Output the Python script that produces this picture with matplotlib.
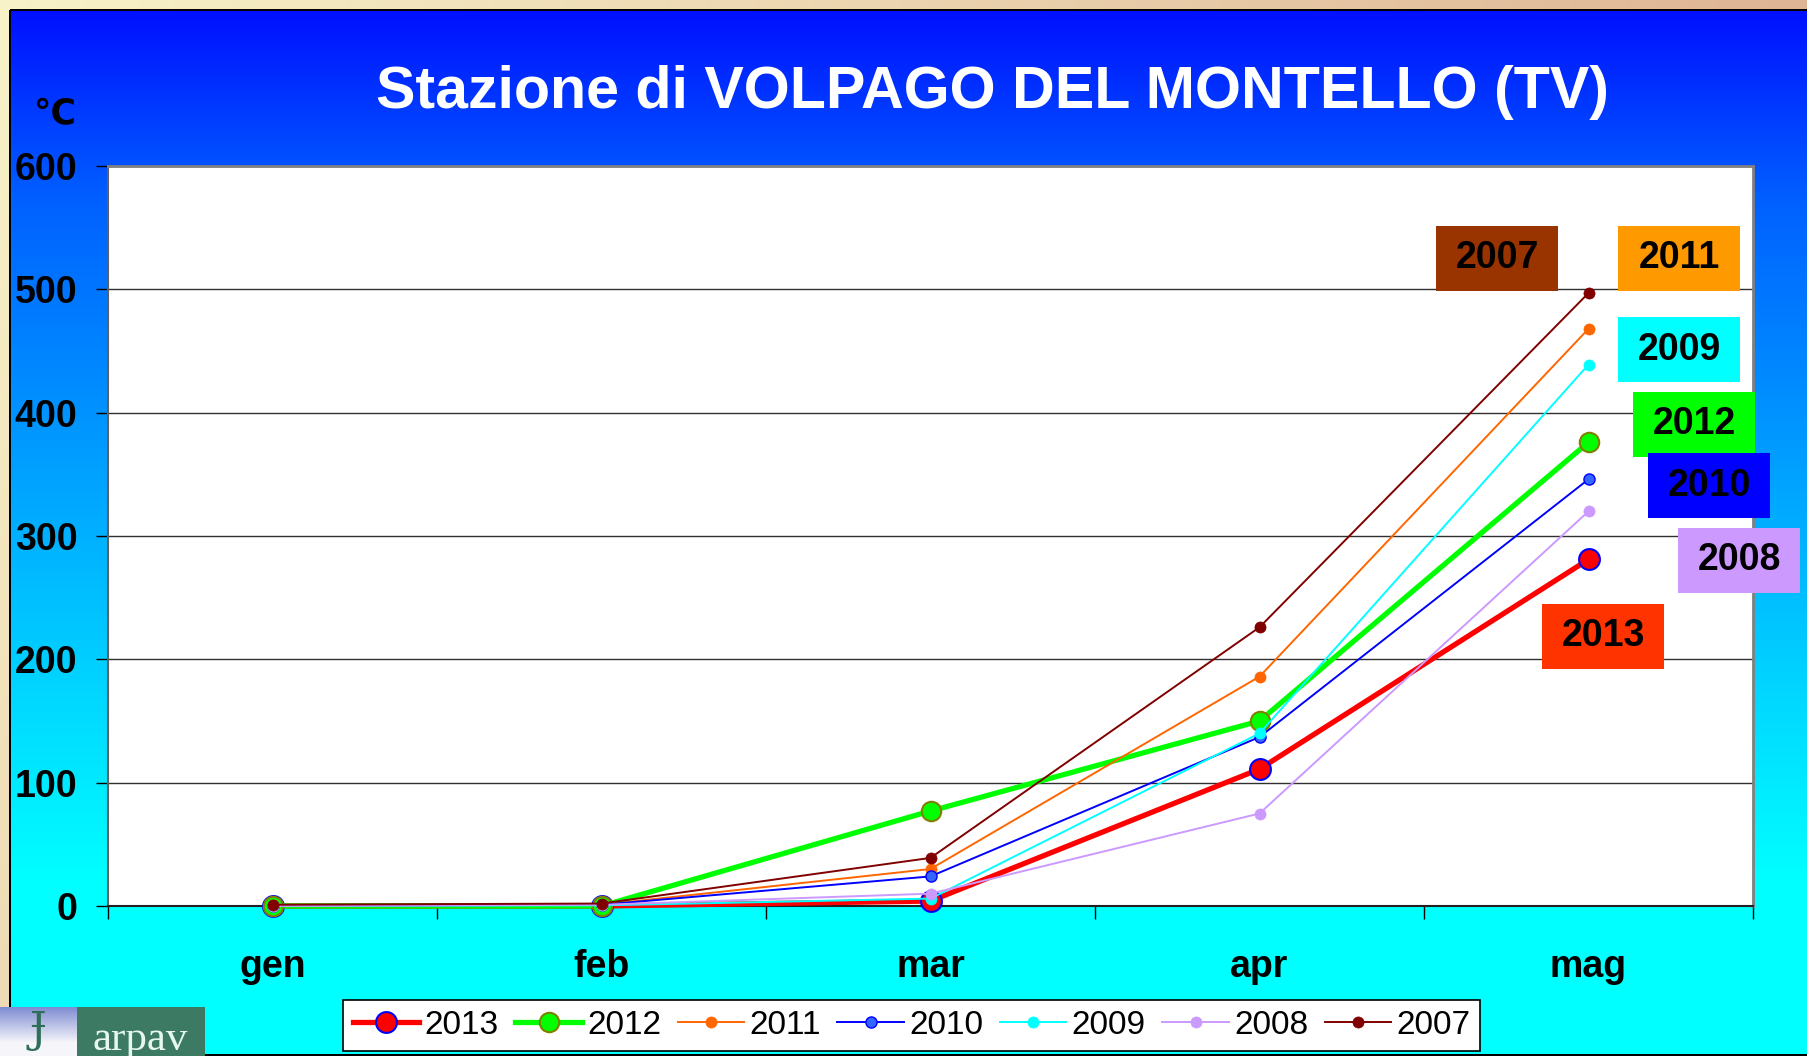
import numpy as np
import matplotlib
matplotlib.use("Agg")
import matplotlib.pyplot as plt
from matplotlib.patches import Rectangle

# ---------------- data ----------------
months = ["gen", "feb", "mar", "apr", "mag"]
years = ["2013", "2012", "2011", "2010", "2009", "2008", "2007"]
v2013 = [0, 0, 4, 111, 281]
v2012 = [0, 0, 77, 150, 376]
v2011 = [0.5, 1, 30, 186, 468]
v2010 = [0, 1, 24, 137, 346]
v2009 = [0, 0.5, 6, 140, 439]
v2008 = [0, 1, 10, 75, 320]
v2007 = [1, 2, 39, 226, 497]
series = [v2013, v2012, v2011, v2010, v2009, v2008, v2007]
yticks = [0, 100, 200, 300, 400, 500, 600]
title = "Stazione di VOLPAGO DEL MONTELLO (TV)"
unit = "\u2103"

# ---------------- styles ----------------
line_colors = ["#FF0000", "#00FF00", "#FF6600", "#0000FF", "#00FFFF", "#CC99FF", "#800000"]
marker_face = ["#FF0000", "#00FF00", "#FF6600", "#3366FF", "#00FFFF", "#CC99FF", "#800000"]
marker_edge = ["#0000FF", "#808000", "#FF6600", "#0000FF", "#00FFFF", "#CC99FF", "#800000"]
line_widths = [3.8, 3.8, 1.4, 1.4, 1.4, 1.4, 1.4]
marker_sizes = [15, 14, 8, 8, 8, 8, 8]
edge_widths = [1.5, 1.5, 0.5, 1.0, 0.5, 0.5, 0.5]
# label boxes (figure pixels: left, top) and colours
box_pos = {"2007": (1436, 226), "2011": (1618, 226), "2009": (1618, 317),
           "2012": (1633, 392), "2010": (1648, 453), "2008": (1678, 528),
           "2013": (1542, 604)}
box_col = {"2007": "#993300", "2011": "#FF9900", "2009": "#00FFFF",
           "2012": "#00FF00", "2010": "#0000FF", "2008": "#CC99FF",
           "2013": "#FF3300"}
BOX_W, BOX_H = 122, 65

FONT = ["Liberation Sans", "DejaVu Sans"]
plt.rcParams["font.family"] = FONT

W, H, DPI = 1807, 1056, 100
fig = plt.figure(figsize=(W / DPI, H / DPI), dpi=DPI)

# ---------------- background ----------------
bg = fig.add_axes([0, 0, 1, 1], zorder=-10)
bg.axis("off")
yy = np.arange(H)
xx = np.arange(W)
img = np.zeros((H, W, 3))
G = np.interp(yy, [10, 200, 700, 880], [16, 96, 216, 255]) / 255.0
img[:, :, 1] = G[:, None]
img[:, :, 2] = 1.0
beige = np.array([248, 243, 201]) / 255.0
tan = np.array([218, 170, 140]) / 255.0
t = np.clip(xx[None, :] / W * 0.85 + yy[:, None] / H * 0.35, 0, 1)[..., None]
frame = beige + (tan - beige) * t
mask = (xx[None, :] < 10) | (yy[:, None] < 10)
img[mask] = frame[mask]
img[9:11, 10:, :] = 0
img[10:, 9:11, :] = 0
img[H - 2:, 10:, :] = 0
# logo block
lav = np.array([128, 140, 210]) / 255.0
white = np.array([245, 245, 250]) / 255.0
for r in range(1007, H):
    f = min(1.0, (r - 1007) / 35.0)
    img[r, 0:77, :] = lav + (white - lav) * f
img[1007:H, 77:205, :] = np.array([61, 122, 99]) / 255.0
bg.imshow(img, extent=[0, W, H, 0], aspect="auto", interpolation="nearest")
bg.set_xlim(0, W)
bg.set_ylim(H, 0)

# ---------------- main axes ----------------
L, R, T, B = 108, 1753, 166, 906
ax = fig.add_axes([L / W, 1 - B / H, (R - L) / W, (B - T) / H])
ax.set_facecolor("white")
x = np.arange(len(months))
for i, (yr, vals) in enumerate(zip(years, series)):
    ax.plot(x, vals, color=line_colors[i], lw=line_widths[i], marker="o",
            ms=marker_sizes[i], mfc=marker_face[i], mec=marker_edge[i],
            mew=edge_widths[i], label=yr, clip_on=False, zorder=3 + i)

ax.set_xlim(-0.5, len(months) - 0.5)
ax.set_ylim(0, 600)
ax.set_yticks(yticks)
ax.set_yticklabels([str(v) for v in yticks], fontsize=27, fontweight="bold")
ax.yaxis.grid(True, color="#303030", lw=1.0)
ax.set_axisbelow(True)
ax.tick_params(axis="y", length=9, width=1, pad=13, colors="black")
ax.set_xticks(np.arange(-0.5, len(months), 1.0))
ax.set_xticklabels([])
ax.set_xticks(x, minor=True)
ax.set_xticklabels(months, minor=True, fontsize=27, fontweight="bold")
ax.tick_params(axis="x", which="major", length=9, width=1, direction="out")
ax.tick_params(axis="x", which="minor", length=0, pad=31)
for s in ["top", "right"]:
    ax.spines[s].set_color("#808080")
    ax.spines[s].set_linewidth(2)
ax.spines["left"].set_color("#606060")
ax.spines["left"].set_linewidth(1.5)
ax.spines["bottom"].set_color("#202020")
ax.spines["bottom"].set_linewidth(1.5)

# ---------------- texts ----------------
fig.text(992 / W, 1 - 92 / H, title, ha="center", va="center", color="white",
         fontsize=42.6, fontweight="bold")
fig.text(76 / W, 1 - 115 / H, unit, ha="right", va="center", color="black",
         fontsize=25, fontweight="bold")

# label boxes
for yr in years:
    bx, by = box_pos[yr]
    fig.patches.append(Rectangle((bx / W, 1 - (by + BOX_H) / H), BOX_W / W, BOX_H / H,
                                 transform=fig.transFigure, facecolor=box_col[yr],
                                 edgecolor="none", zorder=5))
    fig.text((bx + BOX_W / 2) / W, 1 - (by + BOX_H / 2) / H, yr, ha="center",
             va="center", fontsize=27, fontweight="bold", color="black", zorder=6)

# legend
handles, labels = ax.get_legend_handles_labels()
leg = fig.legend(handles, labels, ncol=7, loc="center",
                 bbox_to_anchor=(911.6 / W, 1 - 1025.5 / H), frameon=True,
                 fancybox=False, edgecolor="black", facecolor="white",
                 prop={"size": 24}, handlelength=2.0, handletextpad=0.15,
                 columnspacing=0.5, borderpad=0.3, framealpha=1)
leg.get_frame().set_linewidth(1.2)

# logo texts
fig.text(38 / W, 1 - 1009 / H, "\u0248", ha="center", va="top", color="#2F6E58",
         fontsize=30, family=["DejaVu Serif", "DejaVu Sans"], zorder=6)
fig.text(93 / W, 1 - 1050 / H, "arpav", ha="left", va="baseline", color="#E6F7EF",
         fontsize=31, family=["Liberation Serif", "DejaVu Serif"], zorder=6)

fig.savefig("out.png", dpi=DPI)
